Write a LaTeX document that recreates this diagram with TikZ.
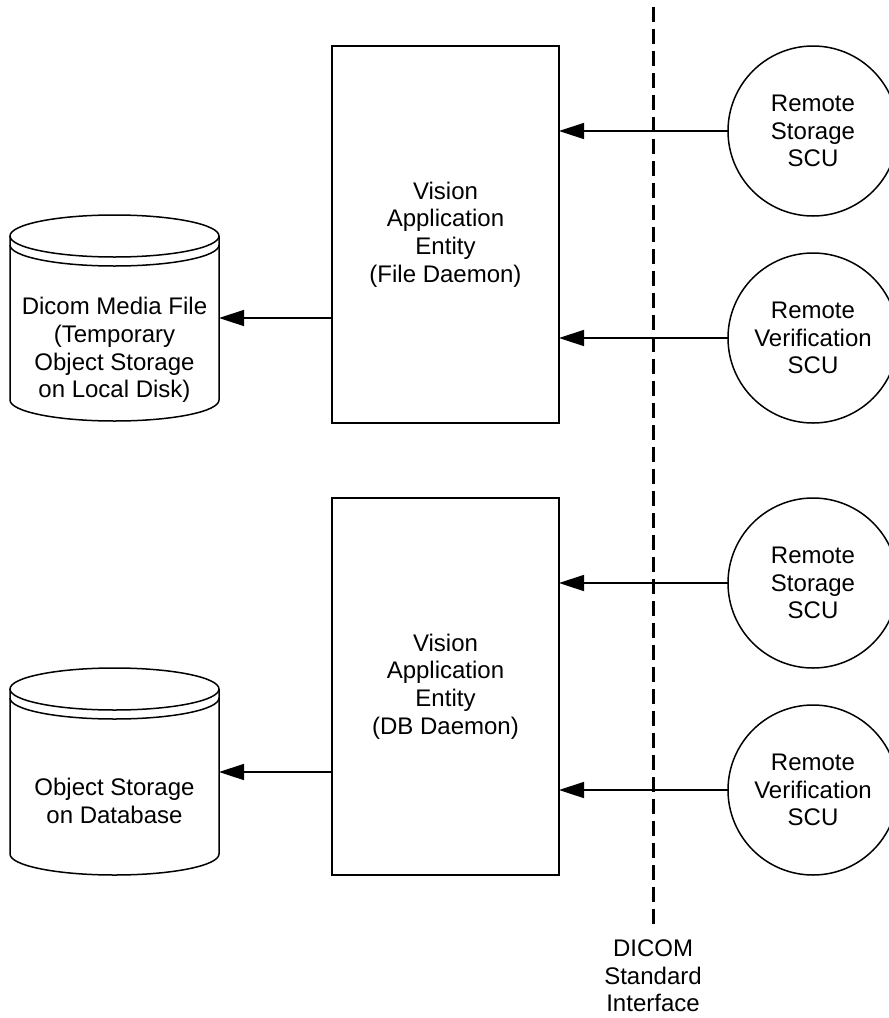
\documentclass[tikz,border=0pt]{standalone}
\usepackage{fontspec}
\setmainfont{Liberation Sans}
\usetikzlibrary{arrows.meta}
\begin{document}
\begin{tikzpicture}[x=1pt,y=1pt,
  every node/.style={font=\fontsize{24}{27.6}\selectfont, align=center, inner sep=0pt, outer sep=0pt},
  entitybox/.style={draw, line width=1.8pt, rectangle, minimum width=227pt, minimum height=377pt},
  remotecircle/.style={draw, line width=1.5pt, circle, minimum size=170pt},
  cylline/.style={line width=1.5pt},
  arr/.style={line width=1.5pt, -{Triangle[length=25pt, width=16pt]}},
  ifline/.style={line width=3pt, dash pattern=on 15pt off 7pt}
]
\path[use as bounding box, fill=white] (0,0) rectangle (889,-1018);

% entity boxes
\node[entitybox] (box1) at (445.5,-234.5) {Vision\\Application\\Entity\\(File Daemon)};
\node[entitybox] (box2) at (445.5,-686.5) {Vision\\Application\\Entity\\(DB Daemon)};

% remote circles
\node[remotecircle] (c1) at (813,-131) {Remote\\Storage\\SCU};
\node[remotecircle] (c2) at (813,-338) {Remote\\Verification\\SCU};
\node[remotecircle] (c3) at (813,-583) {Remote\\Storage\\SCU};
\node[remotecircle] (c4) at (813,-790) {Remote\\Verification\\SCU};

% cylinders (anchor nodes)
\node[minimum width=209pt, minimum height=206pt] (cyl1) at (114.5,-318) {};
\node[minimum width=209pt, minimum height=206pt] (cyl2) at (114.5,-772) {};

% cylinder 1 outline
\draw[cylline] (114.5,-236) ellipse [x radius=104.5, y radius=21];
\draw[cylline] (10,-245) arc[start angle=180, end angle=360, x radius=104.5, y radius=21];
\draw[cylline] (10,-236) -- (10,-400) arc[start angle=180, end angle=360, x radius=104.5, y radius=21] -- (219,-236);
\node (cyl1text) at (114.5,-350) {Dicom Media File\\(Temporary\\Object Storage\\on Local Disk)};

% cylinder 2 outline
\draw[cylline] (114.5,-689) ellipse [x radius=104.5, y radius=21];
\draw[cylline] (10,-698) arc[start angle=180, end angle=360, x radius=104.5, y radius=21];
\draw[cylline] (10,-689) -- (10,-854) arc[start angle=180, end angle=360, x radius=104.5, y radius=21] -- (219,-689);
\node (cyl2text) at (114.5,-801) {Object Storage\\on Database};

% DICOM interface line
\coordinate (dtop) at (653,-7);
\coordinate (dbot) at (653,-926);
\node[anchor=north] (dicom) at (653,-940) {DICOM\\Standard\\Interface};
\draw[ifline] (dtop) -- (dbot);

% arrows from remote SCUs to entities
\draw[arr] (c1.west) -- (c1.west -| box1.east);
\draw[arr] (c2.west) -- (c2.west -| box1.east);
\draw[arr] (c3.west) -- (c3.west -| box2.east);
\draw[arr] (c4.west) -- (c4.west -| box2.east);

% arrows from entities to storage
\draw[arr] (box1.west |- cyl1.east) -- (cyl1.east);
\draw[arr] (box2.west |- cyl2.east) -- (cyl2.east);
\end{tikzpicture}
\end{document}
